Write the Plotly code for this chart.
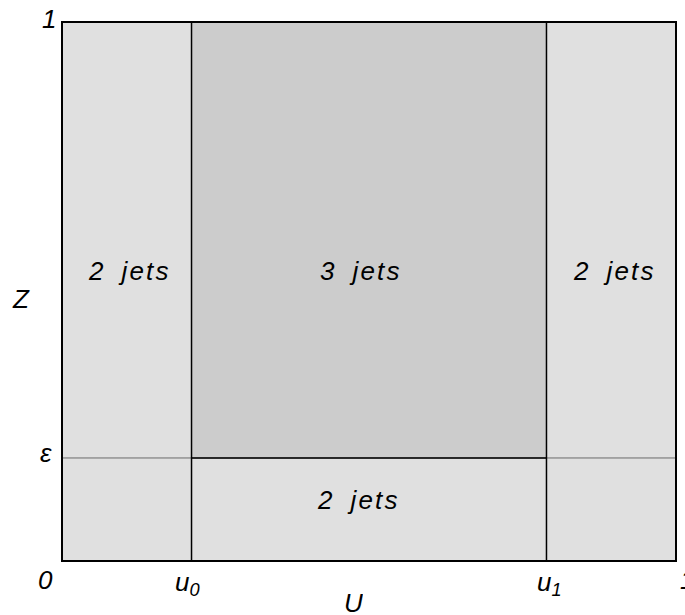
import plotly.graph_objects as go

# ---- data ----
u_bounds = [0.0, 0.21, 0.79, 1.0]          # 0, u0, u1, 1
z_bounds = [0.0, 0.19, 1.0]                 # 0, epsilon, 1
region_labels = ["2 jets", "3 jets", "2 jets", "2 jets"]
region_x = [0.1075, 0.485, 0.899, 0.482]
region_y = [0.539, 0.539, 0.539, 0.112]
tick_labels_u = ["0", "u<sub>0</sub>", "u<sub>1</sub>", "1"]
tick_labels_z = ["0", "\u03b5", "1"]

u0, u1 = u_bounds[1], u_bounds[2]
eps = z_bounds[1]

LIGHT = "#e0e0e0"
DARK = "#cccccc"
FONT = "Liberation Sans, Arial, sans-serif"
FS = 26
H = "\u200a"

def spaced(s):
    return H.join(list(s)).replace(" ", H + H + " " + H)

def tfont():
    return dict(family=FONT, size=FS, color="black", style="italic")

fig = go.Figure()

# background light region
fig.add_trace(go.Scatter(x=[u_bounds[0], u_bounds[3], u_bounds[3], u_bounds[0], u_bounds[0]],
                         y=[z_bounds[0], z_bounds[0], z_bounds[2], z_bounds[2], z_bounds[0]],
                         fill="toself", fillcolor=LIGHT, mode="lines",
                         line=dict(width=0, color=LIGHT), hoverinfo="skip", showlegend=False))
# dark region (3 jets)
fig.add_trace(go.Scatter(x=[u0, u1, u1, u0, u0], y=[eps, eps, z_bounds[2], z_bounds[2], eps],
                         fill="toself", fillcolor=DARK, mode="lines",
                         line=dict(width=0, color=DARK), hoverinfo="skip", showlegend=False))
# thin grey epsilon line across
fig.add_trace(go.Scatter(x=[u_bounds[0], u_bounds[3]], y=[eps, eps], mode="lines",
                         line=dict(width=1, color="#6a6a6a"), hoverinfo="skip", showlegend=False))
# black boundary lines
fig.add_trace(go.Scatter(x=[u0, u0, None, u1, u1, None, u0, u1],
                         y=[z_bounds[0], z_bounds[2], None, z_bounds[0], z_bounds[2], None, eps, eps],
                         mode="lines", line=dict(width=1.5, color="black"),
                         hoverinfo="skip", showlegend=False, connectgaps=False))

ann = []
for lab, x, y in zip(region_labels, region_x, region_y):
    ann.append(dict(x=x, y=y, xref="x", yref="y", text=spaced(lab), showarrow=False,
                    xanchor="center", yanchor="middle", font=tfont()))

def add_paper(text, x, y, **kw):
    ann.append(dict(x=x, y=y, xref="paper", yref="paper", text=text, showarrow=False,
                    xanchor="center", yanchor="middle", font=tfont(), **kw))

# u tick labels (paper coords == data coords here, since range is [0, 1])
u_lab_x = [-0.028, 0.2028, 0.795, 1.0195]
u_lab_y = [-0.038, -0.044, -0.044, -0.038]
for lab, x, y in zip(tick_labels_u, u_lab_x, u_lab_y):
    add_paper(lab, x, y)
# z labels
add_paper(tick_labels_z[1], -0.028, 0.2)
add_paper(tick_labels_z[2], -0.023, 1.0067)
# axis titles
add_paper("U", 0.474, -0.081, height=24)
add_paper("Z", -0.068, 0.4865)

fig.update_layout(
    width=685, height=615,
    margin=dict(l=63, r=8, t=23, b=55),
    paper_bgcolor="white", plot_bgcolor="white",
    xaxis=dict(range=[0, 1], showgrid=False, zeroline=False, showticklabels=False, ticks="",
               showline=True, mirror=True, linecolor="black", linewidth=1.5, fixedrange=True),
    yaxis=dict(range=[0, 1], showgrid=False, zeroline=False, showticklabels=False, ticks="",
               showline=True, mirror=True, linecolor="black", linewidth=1.5, fixedrange=True),
    annotations=ann,
    showlegend=False,
)

fig.write_html("out.html", config={"displayModeBar": False},
               post_script="document.body.style.margin='0px';")
